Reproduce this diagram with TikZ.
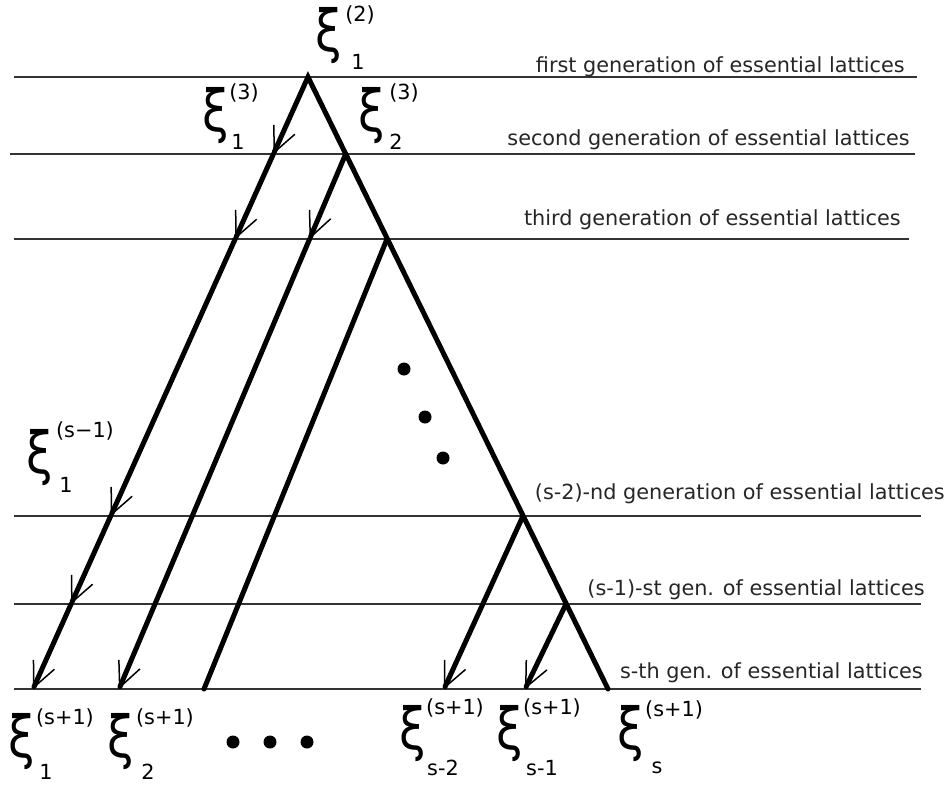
\documentclass[tikz,border=0pt]{standalone}
\usepackage{fontspec}
\setmainfont{DejaVu Sans}
\usetikzlibrary{arrows.meta}

\newcommand{\xisym}{\scalebox{0.82}[1]{ξ}}

\tikzset{
  genline/.style={line width=1.3pt, black!80},
  branch/.style={line width=5pt, line cap=round, line join=miter},
  barb/.style={-{Straight Barb[length=25pt,width=23pt,line width=1.5pt]}},
  xiglyph/.style={inner sep=0pt, font=\fontsize{58}{58}\selectfont},
  idx/.style={inner sep=0pt, font=\fontsize{20.8}{22}\selectfont},
  genlabel/.style={anchor=base east, inner sep=0pt, font=\fontsize{20.8}{22}\selectfont, black!85},
  dot/.style={circle, fill=black, inner sep=0pt, minimum size=13pt}
}

\begin{document}
\begin{tikzpicture}[x=1pt,y=-1pt]
\useasboundingbox (0,0) rectangle (951,787);

% generation lines
\coordinate (g1a) at (14,77);  \coordinate (g1b) at (917,77);
\coordinate (g2a) at (10,154); \coordinate (g2b) at (915,154);
\coordinate (g3a) at (14,239); \coordinate (g3b) at (909,239);
\coordinate (g4a) at (14,516); \coordinate (g4b) at (921,516);
\coordinate (g5a) at (14,604); \coordinate (g5b) at (921,604);
\coordinate (g6a) at (14,689); \coordinate (g6b) at (921,689);
\draw[genline] (g1a) -- (g1b);
\draw[genline] (g2a) -- (g2b);
\draw[genline] (g3a) -- (g3b);
\draw[genline] (g4a) -- (g4b);
\draw[genline] (g5a) -- (g5b);
\draw[genline] (g6a) -- (g6b);

\node[genlabel] (t1) at (905,72) {first generation of essential lattices};
\node[genlabel] (t2) at (910,145) {second generation of essential lattices};
\node[genlabel] (t3) at (901,225) {third generation of essential lattices};
\node[genlabel] (t4) at (945,499) {(s-2)-nd generation of essential lattices};
\node[genlabel] (t5) at (925,595) {(s-1)-st gen. of essential lattices};
\node[genlabel] (t6) at (923,678) {s-th gen. of essential lattices};

% branch points
\coordinate (apex) at (308,77);
\coordinate (l2) at (273.4,154);
\coordinate (l3) at (235.2,239);
\coordinate (l4) at (110.7,516);
\coordinate (l5) at (71.1,604);
\coordinate (b1) at (33,689);
\coordinate (m2) at (345.7,154);
\coordinate (m3) at (309.6,239);
\coordinate (b2) at (119,689);
\coordinate (n3) at (387,239);
\coordinate (b3) at (204,689);
\coordinate (r4) at (523,516);
\coordinate (r5) at (566,604);
\coordinate (bs) at (608,689);
\coordinate (bs2) at (444,689);
\coordinate (bs1) at (525,689);

% tree
\draw[branch, {Straight Barb[length=25pt,width=23pt,line width=1.5pt]}-] (l2) -- (apex) -- (bs);
\draw[branch, barb] (l2) -- (l3);
\draw[branch, barb] (l3) -- (l4);
\draw[branch, barb] (l4) -- (l5);
\draw[branch, barb] (l5) -- (b1);
\draw[branch, barb] (m2) -- (m3);
\draw[branch, barb] (m3) -- (b2);
\draw[branch] (n3) -- (b3);
\draw[branch, barb] (r4) -- (bs2);
\draw[branch, barb] (r5) -- (bs1);

% dots
\node[dot] (d1) at (404,369) {};
\node[dot] (d2) at (425,417) {};
\node[dot] (d3) at (443,458) {};
\node[dot] (e1) at (233,742) {};
\node[dot] (e2) at (270,742) {};
\node[dot] (e3) at (307,742) {};

% labels
\node[xiglyph] (x21) at (329,36) {\xisym};
\node[idx] (x21u) at (360,15) {(2)};
\node[idx] (x21d) at (358,62) {1};

\node[xiglyph] (x31) at (216,116) {\xisym};
\node[idx] (x31u) at (244,93) {(3)};
\node[idx] (x31d) at (238,142) {1};

\node[xiglyph] (x32) at (372,116) {\xisym};
\node[idx] (x32u) at (404,93) {(3)};
\node[idx] (x32d) at (396,142) {2};

\node[xiglyph] (xs1) at (40,458) {\xisym};
\node[idx] (xs1u) at (85,431) {(s−1)};
\node[idx] (xs1d) at (66,485) {1};

\node[xiglyph] (y1) at (22,742) {\xisym};
\node[idx] (y1u) at (65,718) {(s+1)};
\node[idx] (y1d) at (46,772) {1};

\node[xiglyph] (y2) at (121,742) {\xisym};
\node[idx] (y2u) at (165,718) {(s+1)};
\node[idx] (y2d) at (148,772) {2};

\node[xiglyph] (ys2) at (413,734) {\xisym};
\node[idx] (ys2u) at (455,708) {(s+1)};
\node[idx] (ys2d) at (443,768) {s-2};

\node[xiglyph] (ys1) at (510,734) {\xisym};
\node[idx] (ys1u) at (552,708) {(s+1)};
\node[idx] (ys1d) at (542,768) {s-1};

\node[xiglyph] (ys) at (631,734) {\xisym};
\node[idx] (ysu) at (674,710) {(s+1)};
\node[idx] (ysd) at (657,768) {s};
\end{tikzpicture}
\end{document}
